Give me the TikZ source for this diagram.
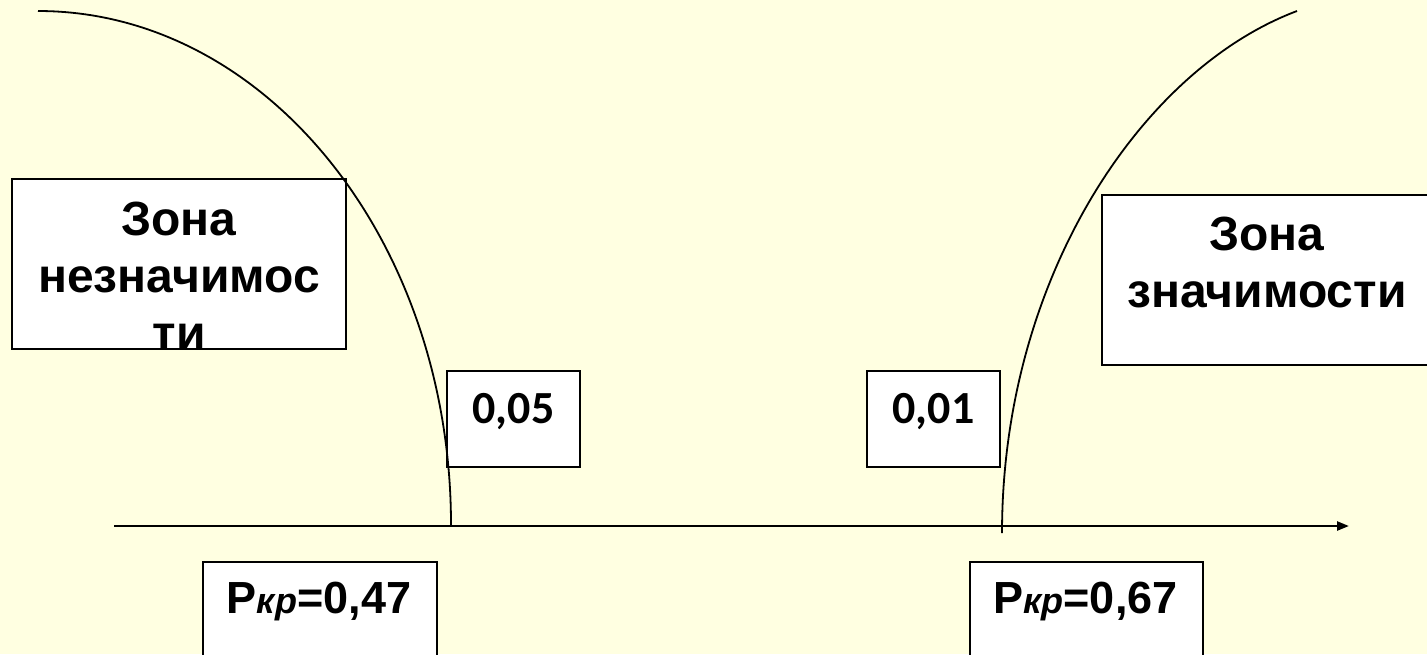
\documentclass[tikz,border=0pt]{standalone}
\usepackage{fontspec}
\setmainfont{Liberation Sans}
\newfontfamily\numfont{Carlito}
\usetikzlibrary{arrows.meta}
\definecolor{paper}{RGB}{255,255,225}
\newcommand{\subkr}{{\fontsize{18}{22}\selectfont\itshape кр}}
\begin{document}
\begin{tikzpicture}[x=0.5pt,y=-0.5pt,
  box/.style={draw=black, line width=1.1pt, fill=white, inner sep=0pt, outer sep=0pt},
  zone/.style={font=\fontsize{24}{28.5}\selectfont\bfseries, text width=170pt, align=center, inner sep=0pt, anchor=base},
  level/.style={font=\numfont\fontsize{23}{27}\selectfont\bfseries, inner sep=0pt, anchor=base},
  crit/.style={font=\fontsize{22.5}{27}\selectfont\bfseries, inner sep=0pt, anchor=base},
  bound/.style={line width=0.9pt},
  axis/.style={line width=1.2pt, -{Triangle[length=6pt,width=4.5pt]}}
]
% page background
\fill[paper] (0,0) rectangle (1427,654);
\clip (0,0) rectangle (1427,654);

% zone boxes
\node[box, minimum width=167pt, minimum height=85pt] (insig) at (179,264) {};
\node[zone] (insigtext) at (179,235) {Зона\\незначимос\\ти};
\node[box, minimum width=165pt, minimum height=85pt] (sig) at (1267,280) {};
\node[zone] (sigtext) at (1267,250) {Зона\\значимости};

% significance levels
\node[box, minimum width=66.5pt, minimum height=48pt] (lvla) at (513.5,419) {};
\node[level] (lvlatext) at (513.5,423) {0,05};
\node[box, minimum width=66.5pt, minimum height=48pt] (lvlb) at (933.5,419) {};
\node[level] (lvlbtext) at (933.5,423) {0,01};

% critical values
\node[box, minimum width=117pt, minimum height=69pt] (crita) at (320,631) {};
\node[crit] (critatext) at (319,613) {Р\subkr=0,47};
\node[box, minimum width=116.5pt, minimum height=69pt] (critb) at (1086.5,631) {};
\node[crit] (critbtext) at (1085.5,613) {Р\subkr=0,67};

% axis
\coordinate (axstart) at (114,526);
\coordinate (axend) at (1349,526);
\draw[axis] (axstart) -- (axend);

% zone boundaries
\coordinate (la) at (38,11);
\coordinate (lb) at (451,525);
\draw[bound] (la) .. controls (266.1,11) and (451,241.1) .. (lb);
\coordinate (ra) at (1002,533);
\coordinate (rb) at (1297,11);
\draw[bound] (ra) .. controls (1002,280) and (1140,70) .. (rb);
\end{tikzpicture}
\end{document}
